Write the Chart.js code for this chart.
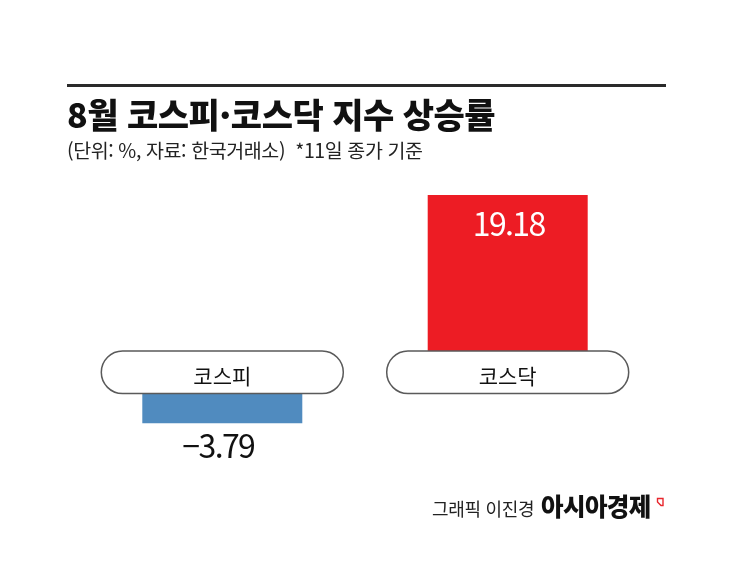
<!DOCTYPE html>
<html lang="ko">
<head>
<meta charset="utf-8">
<script src="https://cdn.jsdelivr.net/npm/chart.js@4/dist/chart.umd.min.js"></script>
<style>
  html, body { margin:0; padding:0; background:#fff; }
  body { width:745px; height:581px; position:relative; overflow:hidden; font-family:"Noto Sans CJK KR","Noto Sans",sans-serif; }
  #wrap { position:absolute; left:0; top:0; width:745px; height:581px; }
  .t { position:absolute; white-space:nowrap; line-height:1; }
  #rule { position:absolute; left:67px; top:84px; width:599px; height:2.5px; background:#2a2a2a; }
  #title { left:67px; top:96.7px; font-size:34px; font-weight:800; color:#111; letter-spacing:-0.5px; }
  #sub { left:67px; top:140.2px; font-size:19.5px; color:#222; letter-spacing:-0.4px; }
  #credit { left:432px; top:499.2px; font-size:18px; color:#222; letter-spacing:-0.3px; }
  #brand { left:541px; top:494.1px; font-size:24.5px; font-weight:800; color:#111; letter-spacing:-0.6px; }
  #icon { position:absolute; left:655px; top:496px; }
</style>
</head>
<body>
<div id="wrap"><canvas id="c" width="745" height="581"></canvas></div>
<div id="rule"></div>
<div class="t" id="title">8월 코스피·코스닥 지수 상승률</div>
<div class="t" id="sub">(단위: %, 자료: 한국거래소)&nbsp;&nbsp;*11일 종가 기준</div>
<div class="t" id="credit">그래픽 이진경</div>
<div class="t" id="brand">아시아경제</div>
<svg id="icon" width="12" height="14"><polygon points="2.5,2.5 8,2.5 8,9.5 6,9.5 2.5,6" fill="none" stroke="#e8262c" stroke-width="1.4"/></svg>
<script>
const categories = ["코스피", "코스닥"];
const values = [-3.79, 19.18];
const barColors = ["#508bbf", "#ed1c24"];

const pillPlugin = {
  id: 'pills',
  afterDatasetsDraw(chart) {
    const ctx = chart.ctx;
    const y = chart.scales.y;
    const x = chart.scales.x;
    const y0 = y.getPixelForValue(0);
    const meta = chart.getDatasetMeta(0);
    ctx.save();
    categories.forEach((cat, i) => {
      const cx = x.getPixelForValue(i);
      const w = 242, h = 42.5, top = y0 - 34.5, r = h / 2;
      const left = cx - w / 2;
      ctx.beginPath();
      ctx.moveTo(left + r, top);
      ctx.lineTo(left + w - r, top);
      ctx.arc(left + w - r, top + r, r, -Math.PI / 2, Math.PI / 2);
      ctx.lineTo(left + r, top + h);
      ctx.arc(left + r, top + r, r, Math.PI / 2, Math.PI * 1.5);
      ctx.closePath();
      ctx.fillStyle = '#fff';
      ctx.fill();
      ctx.lineWidth = 1.5;
      ctx.strokeStyle = '#5a5a5a';
      ctx.stroke();
      ctx.fillStyle = '#111';
      ctx.font = '21px "Noto Sans CJK KR"';
      ctx.textAlign = 'center';
      ctx.textBaseline = 'alphabetic';
      ctx.fillText(cat, cx, y0 - 1.5);

      // value labels
      const v = values[i];
      const bar = meta.data[i];
      const txt = (v < 0 ? '\u2212' : '') + Math.abs(v).toFixed(2);
      ctx.font = '400 32px "Noto Sans CJK KR"';
      ctx.letterSpacing = '-1.6px';
      if (v >= 0) {
        ctx.fillStyle = '#fff';
        ctx.fillText(txt, bar.x + 1, bar.y + 40.7);
      } else {
        ctx.fillStyle = '#111';
        ctx.fillText(txt, bar.x - 4, bar.y + 34.7);
      }
      ctx.letterSpacing = '0px';
    });
    ctx.restore();
  }
};

new Chart(document.getElementById('c'), {
  type: 'bar',
  data: {
    labels: categories,
    datasets: [{
      data: values,
      backgroundColor: barColors,
      borderWidth: 0,
      barPercentage: 0.5606,
      categoryPercentage: 1
    }]
  },
  options: {
    responsive: false,
    animation: false,
    events: [],
    layout: { padding: { left: 79.6, right: 94.6, top: 186.9, bottom: 145.7 } },
    plugins: { legend: { display: false }, tooltip: { enabled: false } },
    scales: {
      x: { display: false },
      y: { display: false, min: -5, max: 20 }
    }
  },
  plugins: [pillPlugin]
});
</script>
</body>
</html>
